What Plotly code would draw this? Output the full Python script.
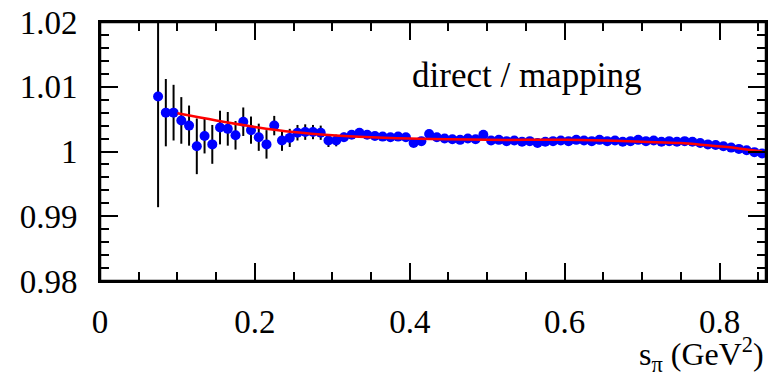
import plotly.graph_objects as go

# ---- data ----
s_pi = [round(0.075 + 0.01 * i, 3) for i in range(79)]
ratio = [
    1.0085, 1.0060, 1.0060, 1.0048, 1.0040, 1.0008, 1.0024, 1.0011, 1.0037, 1.0035,
    1.0025, 1.0046, 1.0033, 1.0022, 1.0011, 1.0040, 1.0017, 1.0021, 1.0029, 1.0030,
    1.0030, 1.0029, 1.0017, 1.0017, 1.0022, 1.0026, 1.0029,
    1.0026, 1.0024, 1.0023, 1.0022, 1.0023, 1.0022,
    1.0013, 1.0016, 1.0027, 1.0022, 1.0020, 1.0019, 1.0018, 1.0020, 1.0019, 1.0026,
    1.0017, 1.0018, 1.0016, 1.0017, 1.0015, 1.0016, 1.0013, 1.0015, 1.0016, 1.0017,
    1.0016, 1.0018, 1.0017, 1.0016, 1.0018, 1.0016, 1.0017, 1.0015, 1.0016, 1.0018,
    1.0016, 1.0017, 1.0015, 1.0016, 1.0015, 1.0016, 1.0015, 1.0013, 1.0011, 1.0010,
    1.0008, 1.0006, 1.0004, 1.0002, 0.9999, 0.9997,
]
ratio_err = [
    0.0171, 0.0052, 0.0043, 0.0036, 0.0031, 0.0043, 0.0027, 0.0030, 0.0026, 0.0026,
    0.0022, 0.0022, 0.0021, 0.0021, 0.0022, 0.0015, 0.0016, 0.0014, 0.0012, 0.0012,
    0.0011, 0.0011, 0.0010, 0.0009, 0.0007, 0.0006, 0.0005,
] + [0.0004] * 20 + [0.0003] * 32

fit_x = [0.10, 0.15, 0.20, 0.25, 0.30, 0.35, 0.40, 0.45, 0.50, 0.55, 0.60,
         0.65, 0.70, 0.75, 0.78, 0.81, 0.83, 0.855]
fit_y = [1.0059, 1.0048, 1.0038, 1.0030, 1.0025, 1.0022, 1.0020, 1.0019, 1.0018,
         1.0018, 1.0018, 1.0017, 1.0015, 1.0013, 1.0010, 1.0007, 1.0004, 1.0000]

x_ticks = [0, 0.2, 0.4, 0.6, 0.8]
x_ticklabels = ["0", "0.2", "0.4", "0.6", "0.8"]
y_ticks = [0.98, 0.99, 1.0, 1.01, 1.02]
y_ticklabels = ["0.98", "0.99", "1", "1.01", "1.02"]

FONT = "Liberation Serif"

fig = go.Figure()
fig.add_trace(go.Scatter(
    x=s_pi, y=ratio, mode="markers",
    marker=dict(color="#0000ff", size=10, line=dict(width=0)),
    error_y=dict(type="data", array=ratio_err, color="black", thickness=2, width=0),
    showlegend=False, cliponaxis=True,
))
fig.add_trace(go.Scatter(
    x=fit_x, y=fit_y, mode="lines", line=dict(color="#ff0000", width=2.5, shape="spline"),
    showlegend=False,
))

axis_common = dict(
    showgrid=False, zeroline=False, showline=True, linecolor="black", linewidth=2,
    mirror="allticks", ticks="inside", ticklen=18, tickwidth=1.5, tickcolor="black",
    tickfont=dict(family=FONT, size=33, color="black"), automargin=False,
    ticklabeloverflow="allow",
)
fig.update_xaxes(
    range=[0, 0.86], tickmode="array", tickvals=x_ticks, ticktext=x_ticklabels,
    minor=dict(dtick=0.05, tick0=0, ticks="inside", ticklen=9, tickwidth=1.5, tickcolor="black"),
    ticklabelstandoff=10, **axis_common,
)
fig.update_yaxes(
    range=[0.98, 1.02], tickmode="array", tickvals=y_ticks, ticktext=y_ticklabels,
    minor=dict(dtick=0.002, tick0=0.98, ticks="inside", ticklen=9, tickwidth=1.5, tickcolor="black"),
    ticklabelstandoff=14, **axis_common,
)

# explicit plot frame
fig.add_shape(type="rect", xref="paper", yref="paper", x0=0, x1=1, y0=0, y1=1,
              line=dict(color="black", width=2.5), layer="above")

fig.add_annotation(
    x=0.4, y=1.0117, xref="x", yref="y", xanchor="left", yanchor="middle",
    text="direct / mapping", showarrow=False,
    font=dict(family=FONT, size=35, color="black"),
)
fig.add_annotation(
    x=1.0, y=-0.285, xref="paper", yref="paper", xanchor="right", yanchor="middle",
    text="s<sub>π</sub> (GeV<sup>2</sup>)", showarrow=False,
    font=dict(family=FONT, size=32, color="black"),
)

fig.update_layout(
    width=769, height=372,
    margin=dict(l=100, r=3, t=22, b=91),
    paper_bgcolor="white", plot_bgcolor="white",
)

# remove the default 8px page margin so the figure fills the 769x372 window
fig.write_html("out.html", config={"displayModeBar": False},
               post_script="document.body.style.margin='0px';")
